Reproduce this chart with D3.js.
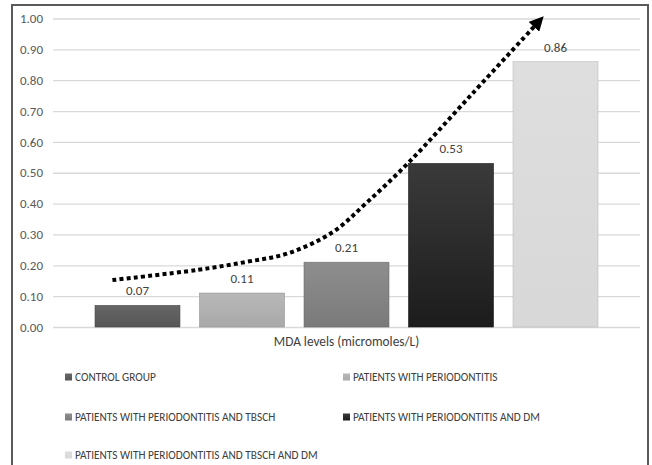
<!DOCTYPE html>
<html>
<head>
<meta charset="utf-8">
<script src="https://cdn.jsdelivr.net/npm/d3@7"></script>
<style>
  html, body { margin: 0; padding: 0; background: #fff; }
  svg { display: block; }
  text { font-family: Carlito, Lato, "Open Sans", sans-serif; }
</style>
</head>
<body>
<svg id="chart" width="652" height="465"></svg>
<script>
// MDA levels per group
const groups = [
  "CONTROL GROUP",
  "PATIENTS WITH PERIODONTITIS",
  "PATIENTS WITH PERIODONTITIS AND TBSCH",
  "PATIENTS WITH PERIODONTITIS AND DM",
  "PATIENTS WITH PERIODONTITIS AND TBSCH AND DM"
];
const mdaValues = [0.07, 0.11, 0.21, 0.53, 0.86];
const categoryLabel = "MDA levels (micromoles/L)";
const yTicks = [0, 0.1, 0.2, 0.3, 0.4, 0.5, 0.6, 0.7, 0.8, 0.9, 1.0];
// bar fills: top and bottom of each gradient
const fillTop = ["#676767", "#b8b8b8", "#8e8e8e", "#3a3a3a", "#dedede"];
const fillBottom = ["#555555", "#a9a9a9", "#7a7a7a", "#1c1c1c", "#d8d8d8"];
// rising trend arrow, in bar-index units and axis units
const trendPos = [-0.24, 0.57, 1.04, 1.45, 1.87, 2.19, 2.60, 3.20, 3.84];
const trendVal = [0.152, 0.185, 0.211, 0.240, 0.308, 0.402, 0.535, 0.755, 0.99];

const svg = d3.select("#chart");
const plot = { left: 53, right: 640, top: 18.5, bottom: 327 };

// frame
svg.append("path")
  .attr("d", "M12,466 V5 H648 V466")
  .attr("fill", "none").attr("stroke", "#5a5a5a").attr("stroke-width", 2);

const y = d3.scaleLinear().domain([0, 1]).range([plot.bottom, plot.top]);
const x = d3.scaleBand().domain(groups).range([plot.left, plot.right])
  .paddingInner(0.187).paddingOuter(0.402);
const idx = d3.scaleLinear().domain([0, 1])
  .range([x(groups[0]) + x.bandwidth() / 2, x(groups[1]) + x.bandwidth() / 2]);

// gradients
const defs = svg.append("defs");
groups.forEach((g, i) => {
  const lg = defs.append("linearGradient").attr("id", "grad" + i)
    .attr("x1", 0).attr("y1", 0).attr("x2", 0).attr("y2", 1);
  lg.append("stop").attr("offset", "0%").attr("stop-color", fillTop[i]);
  lg.append("stop").attr("offset", "100%").attr("stop-color", fillBottom[i]);
});
defs.append("marker").attr("id", "arrowhead")
  .attr("viewBox", "0 0 10 10").attr("refX", 5).attr("refY", 5)
  .attr("markerWidth", 3.6).attr("markerHeight", 3.6)
  .attr("orient", "auto").attr("markerUnits", "strokeWidth")
  .append("path").attr("d", "M0,0 L10,5 L0,10 Z").attr("fill", "#000");

// gridlines and tick labels
const yAxis = d3.axisLeft(y).tickValues(yTicks).tickFormat(d3.format(".2f"))
  .tickSize(-(plot.right - plot.left)).tickPadding(10);
const ga = svg.append("g").attr("transform", `translate(${plot.left},0)`).call(yAxis);
ga.select(".domain").remove();
ga.selectAll(".tick line").attr("stroke", "#d9d9d9").attr("stroke-width", 1.3);
ga.selectAll(".tick text").attr("fill", "#595959").style("font-size", "13px");

// bars
svg.append("g").selectAll("rect").data(mdaValues).join("rect")
  .attr("x", (d, i) => x(groups[i]))
  .attr("y", d => y(d))
  .attr("width", x.bandwidth())
  .attr("height", d => y(0) - y(d))
  .attr("fill", (d, i) => `url(#grad${i})`)
  .attr("stroke", (d, i) => d3.color(fillBottom[i]).darker(0.4))
  .attr("stroke-width", 0.6);

// value labels
svg.append("g").selectAll("text").data(mdaValues).join("text")
  .attr("x", (d, i) => x(groups[i]) + x.bandwidth() / 2)
  .attr("y", d => y(d) - 10)
  .attr("text-anchor", "middle")
  .attr("fill", "#404040").style("font-size", "13px")
  .text(d => d3.format(".2f")(d));

// category label
svg.append("text")
  .attr("x", (plot.left + plot.right) / 2).attr("y", 346)
  .attr("text-anchor", "middle").attr("fill", "#404040").style("font-size", "13.3px")
  .text(categoryLabel);

// dotted trend arrow
const trendLine = d3.line()
  .x((d, i) => idx(trendPos[i]))
  .y((d, i) => y(trendVal[i]))
  .curve(d3.curveCatmullRom.alpha(0.5));
svg.append("path")
  .attr("d", trendLine(trendPos))
  .attr("fill", "none").attr("stroke", "#000")
  .attr("stroke-width", 4).attr("stroke-dasharray", "4,3.2")
  .attr("marker-end", "url(#arrowhead)");

// legend
const legendCols = [65, 343];
const legendRows = [381, 421, 459];
const leg = svg.append("g").selectAll("g").data(groups).join("g")
  .attr("transform", (d, i) => `translate(${legendCols[i % 2]},${legendRows[Math.floor(i / 2)]})`);
leg.append("rect").attr("x", 0).attr("y", -7.5).attr("width", 7).attr("height", 7)
  .attr("fill", (d, i) => `url(#grad${i})`);
leg.append("text").attr("x", 10).attr("y", 0)
  .attr("fill", "#404040").style("font-size", "11.3px")
  .text(d => d);
</script>
</body>
</html>
